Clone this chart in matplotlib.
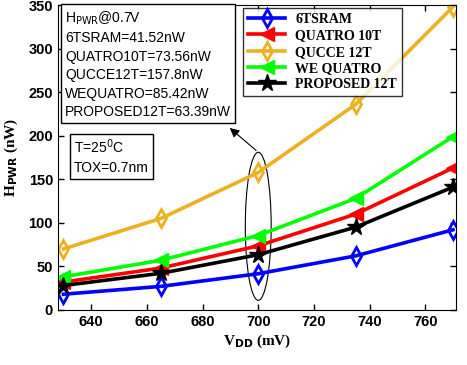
import numpy as np
import matplotlib.pyplot as plt
from matplotlib.patches import Ellipse

vdd = [630, 665, 700, 735, 770]
sram6t = [18, 27, 41.52, 62, 92]
quatro10t = [32, 48, 73.56, 110, 163]
qucce12t = [70, 105, 157.8, 236, 348]
wequatro = [38, 57, 85.42, 128, 199]
proposed12t = [28, 42, 63.39, 95, 141]

fig = plt.figure(figsize=(4.67, 3.65), dpi=100)
ax = fig.add_axes([0.124, 0.151, 0.852, 0.835])

lw = 2.6
ax.plot(vdd, sram6t, color='blue', lw=lw, marker='d', ms=9, mfc='none', mew=2, label='6TSRAM')
ax.plot(vdd, quatro10t, color='red', lw=lw, marker='<', ms=10, label='QUATRO 10T')
ax.plot(vdd, qucce12t, color='#EDB120', lw=lw, marker='d', ms=9, mfc='none', mew=2, label='QUCCE 12T')
ax.plot(vdd, wequatro, color='#00FF00', lw=lw, marker='<', ms=10, label='WE QUATRO')
ax.plot(vdd, proposed12t, color='black', lw=lw, marker='*', ms=13, label='PROPOSED 12T')

ax.set_xlim(628, 771)
ax.set_ylim(0, 350)
ax.set_xticks([640, 660, 680, 700, 720, 740, 760])
ax.set_yticks(range(0, 351, 50))
ax.tick_params(direction='in', top=True, right=True, length=4, width=1, labelsize=10.5)
for lab in ax.get_xticklabels() + ax.get_yticklabels():
    lab.set_fontweight('bold')
    lab.set_family('Liberation Sans')

ax.set_xlabel('V$_{\\mathbf{DD}}$ (mV)', family='Liberation Serif', fontweight='bold', fontsize=11, labelpad=3)
ax.set_ylabel('H$_{\\mathbf{PWR}}$ (nW)', family='Liberation Serif', fontweight='bold', fontsize=11, labelpad=6)

leg = ax.legend(loc='upper left', bbox_to_anchor=(0.465, 0.99), frameon=True, fancybox=False,
                edgecolor='black', prop={'family': 'Liberation Serif', 'weight': 'bold', 'size': 10},
                handlelength=2.7, handletextpad=0.7, labelspacing=0.24, borderpad=0.35, borderaxespad=0)
leg.get_frame().set_linewidth(1)

txt = ('H$_{\\mathrm{PWR}}$@0.7V\n6TSRAM=41.52nW\nQUATRO10T=73.56nW\nQUCCE12T=157.8nW\n'
       'WEQUATRO=85.42nW\nPROPOSED12T=63.39nW')
ax.text(0.018, 0.985, txt, transform=ax.transAxes, va='top', ha='left', family='Liberation Sans',
        fontsize=10, linespacing=1.4,
        bbox=dict(boxstyle='square,pad=0.3', fc='white', ec='black', lw=1))
ax.text(0.04, 0.565, 'T=25$^{0}$C\nTOX=0.7nm', transform=ax.transAxes, va='top', ha='left',
        family='Liberation Sans', fontsize=10, linespacing=1.45,
        bbox=dict(boxstyle='square,pad=0.3', fc='white', ec='black', lw=1))

ax.add_patch(Ellipse((700, 96), 9.3, 170, fill=False, ec='black', lw=0.8))
ax.annotate('', xy=(689, 211), xytext=(700, 181),
            arrowprops=dict(arrowstyle='-|>', color='black', lw=0.8, mutation_scale=14))

fig.savefig('out.png', dpi=100)
